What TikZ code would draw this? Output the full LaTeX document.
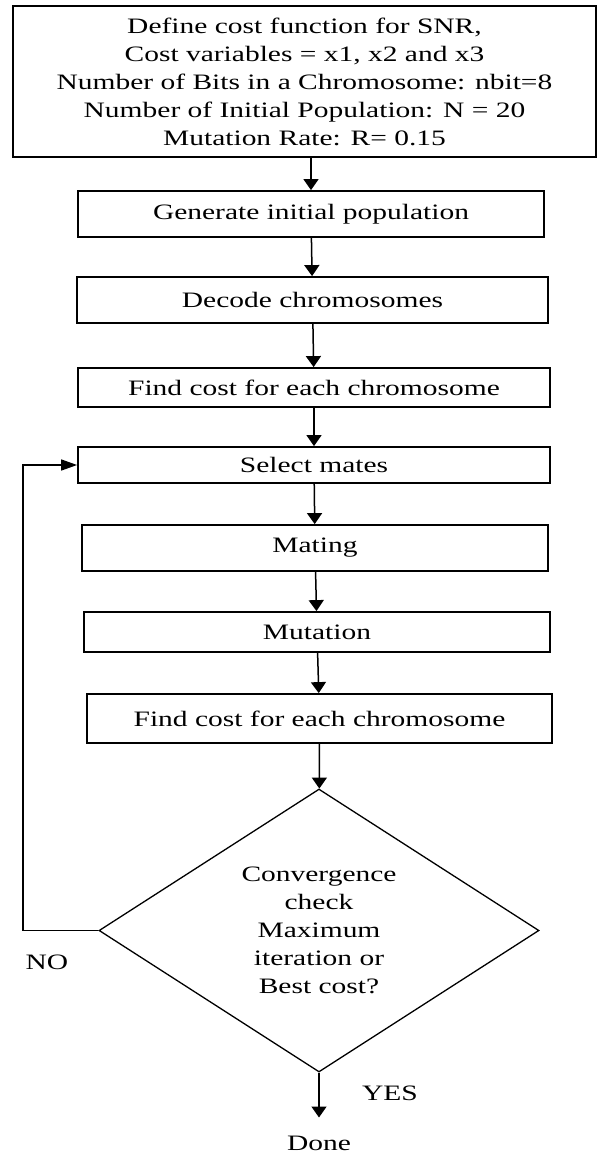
\documentclass[tikz,border=0pt]{standalone}
\usepackage{fontspec}
\setmainfont{Liberation Serif}[FakeStretch=1.34]
\usetikzlibrary{arrows.meta, shapes.geometric}

\begin{document}
\begin{tikzpicture}[x=1pt, y=-1pt]
\useasboundingbox (0,0) rectangle (597,1157);

\begin{scope}[every node/.style={font=\fontsize{22}{28}\selectfont, inner sep=0pt},
              box/.style={shape=rectangle, draw=black, line width=1.8pt}]
    \node (top) at (304.5, 81.5) [box, minimum width=583pt, minimum height=151pt, align=center]
        {Define cost function for SNR,\\ Cost variables = x1, x2 and x3\\ Number of Bits in a Chromosome: nbit=8\\ Number of Initial Population: N = 20\\ Mutation Rate: R= 0.15};

    \node (init) at (311, 214) [box, minimum width=466pt, minimum height=46pt] {Generate initial population};
    \node (decode) at (312.5, 300) [box, minimum width=471pt, minimum height=46pt] {Decode chromosomes};
    \node (cost1) at (314, 387.5) [box, minimum width=472pt, minimum height=39pt] {Find cost for each chromosome};
    \node (select) at (314, 465) [box, minimum width=472pt, minimum height=36pt] {Select mates};
    \node (mate) at (315, 548) [box, minimum width=466pt, minimum height=46pt] {Mating};
    \node (mutate) at (317, 632) [box, minimum width=466pt, minimum height=40pt] {Mutation};
    \node (cost2) at (319.5, 718.5) [box, minimum width=465pt, minimum height=49pt] {Find cost for each chromosome};

    \node (check) at (319, 930.5) [shape=diamond, draw=black, line width=1.3pt, minimum width=440pt, minimum height=283pt, align=center]
        {Convergence\\ check\\ Maximum\\ iteration or\\ Best cost?};

    \node (no) at (47, 962) {NO};
    \node (yes) at (390, 1093) {YES};
    \node (done) at (319, 1143) {Done};
\end{scope}

\coordinate (back) at (23, 931);

\begin{scope}[>={Triangle[length=11pt,width=15pt]},
              every edge/.style={draw=black, line width=1.5pt}]
    \path [->] (init.north |- top.south) edge (init);
    \path [->] (init) edge (decode);
    \path [->] (decode) edge (cost1);
    \path [->] (cost1) edge (select);
    \path [->] (select) edge (mate);
    \path [->] (mate) edge (mutate);
    \path [->] (mutate) edge (cost2);
    \path [->] (cost2) edge (check);
    \path [->] (check) edge [shorten >=18pt] (done);
\end{scope}

\draw [-{Triangle[length=16pt,width=11pt]}, line width=1.5pt]
    (check.west) -- (check.west -| back) |- (select.west);
\end{tikzpicture}
\end{document}
